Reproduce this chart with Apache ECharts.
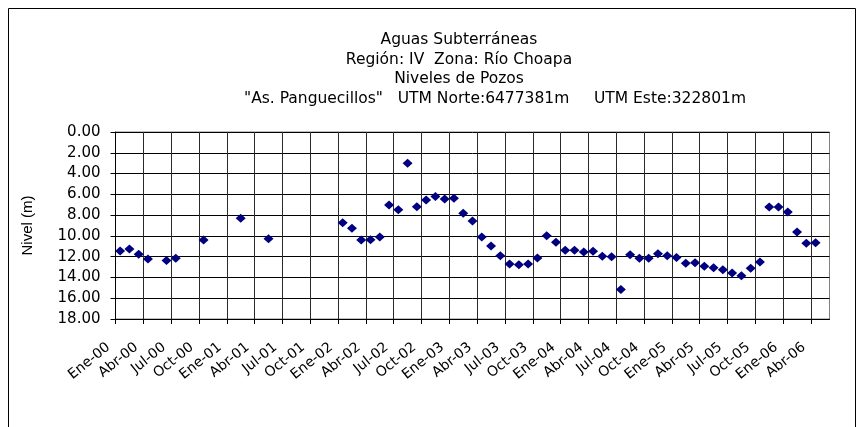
<!DOCTYPE html>
<html>
<head>
<meta charset="utf-8">
<script src="https://cdn.jsdelivr.net/npm/echarts@6/dist/echarts.min.js"></script>
<style>
  html, body { margin: 0; padding: 0; background: #fff; }
  #chart { width: 861px; height: 427px; }
</style>
</head>
<body>
<div id="chart"></div>
<script>
// Measurement months (YYYY-MM) and well level in metres below surface
const months = [
  '2000-01','2000-02','2000-03','2000-04','2000-06','2000-07','2000-10',
  '2001-02','2001-05',
  '2002-01','2002-02','2002-03','2002-04','2002-05','2002-06','2002-07','2002-08',
  '2002-09','2002-10','2002-11','2002-12',
  '2003-01','2003-02','2003-03','2003-04','2003-05','2003-06','2003-07','2003-08',
  '2003-09','2003-10','2003-11','2003-12',
  '2004-01','2004-02','2004-03','2004-04','2004-05','2004-06','2004-07','2004-08',
  '2004-09','2004-10','2004-11','2004-12',
  '2005-01','2005-02','2005-03','2005-04','2005-05','2005-06','2005-07','2005-08',
  '2005-09','2005-10','2005-11','2005-12',
  '2006-01','2006-02','2006-03','2006-04'
];
const levels = [
  11.45, 11.26, 11.77, 12.22, 12.38, 12.16, 10.39,
  8.31, 10.27,
  8.73, 9.27, 10.39, 10.36, 10.10, 7.03, 7.48, 3.02,
  7.19, 6.54, 6.22, 6.45,
  6.38, 7.83, 8.57, 10.10, 10.97, 11.90, 12.70, 12.77,
  12.70, 12.13, 9.98, 10.62,
  11.39, 11.39, 11.55, 11.48, 11.96, 12.00, 15.15, 11.81,
  12.16, 12.16, 11.71, 11.90,
  12.09, 12.64, 12.58, 12.93, 13.06, 13.25, 13.57, 13.83,
  13.12, 12.51, 7.22, 7.22,
  7.70, 9.62, 10.72, 10.65
];
// Quarterly tick labels, one every 3 months starting at Ene-00
const quarterLabels = [
  'Ene-00','Abr-00','Jul-00','Oct-00','Ene-01','Abr-01','Jul-01','Oct-01',
  'Ene-02','Abr-02','Jul-02','Oct-02','Ene-03','Abr-03','Jul-03','Oct-03',
  'Ene-04','Abr-04','Jul-04','Oct-04','Ene-05','Abr-05','Jul-05','Oct-05',
  'Ene-06','Abr-06'
];
const titleLines = [
  'Aguas Subterráneas',
  'Región: IV  Zona: Río Choapa',
  'Niveles de Pozos',
  '"As. Panguecillos"   UTM Norte:6477381m     UTM Este:322801m'
];

// Month axis: 0 = start of Jan 2000; each reading sits in the middle of its month
function monthIndex(ym) {
  const [y, m] = ym.split('-').map(Number);
  return (y - 2000) * 12 + (m - 1) + 0.5;
}
const points = months.map((ym, i) => [monthIndex(ym), levels[i]]);
const quarterTicks = quarterLabels.map((_, i) => i * 3);

const font = 'DejaVu Sans, Verdana, sans-serif';
const chart = echarts.init(document.getElementById('chart'), null, { renderer: 'canvas' });

chart.setOption({
  animation: false,
  backgroundColor: '#fff',
  title: titleLines.map((t, i) => ({
    text: t,
    left: i === 3 ? 490 : 454,
    top: 27 + i * 19.7,
    textAlign: 'center',
    textStyle: { fontFamily: font, fontSize: 15.5, fontWeight: 'normal', color: '#000' }
  })),
  graphic: [{
    type: 'rect',
    shape: { x: 8.5, y: 8.5, width: 847, height: 430 },
    style: { fill: null, stroke: '#000', lineWidth: 1 },
    silent: true, z: -1
  }],
  grid: { left: 115.5, right: 31.5, top: 132, bottom: 108, show: true, borderColor: '#808080', borderWidth: 1 },
  xAxis: {
    type: 'value',
    min: 0, max: 77, interval: 3,
    axisLine: { show: true, onZero: false, lineStyle: { color: '#000', width: 1 } },
    axisTick: { show: true, length: 5, customValues: quarterTicks, lineStyle: { color: '#000' } },
    splitLine: { show: true, lineStyle: { color: '#2a2a2a', width: 1 } },
    axisLabel: {
      customValues: quarterTicks,
      rotate: 39,
      margin: 21,
      padding: [0, 9, 0, 0],
      fontFamily: font, fontSize: 14, color: '#000',
      formatter: v => (v % 3 === 0 && quarterLabels[v / 3]) || ''
    }
  },
  yAxis: {
    type: 'value',
    inverse: true,
    min: 0, max: 18, interval: 2,
    name: 'Nivel (m)',
    nameLocation: 'middle',
    nameRotate: 90,
    nameGap: 80,
    nameTextStyle: { fontFamily: 'Liberation Sans, Arial, sans-serif', fontSize: 15, color: '#000' },
    axisLine: { show: true, lineStyle: { color: '#000', width: 1 } },
    axisTick: { show: true, length: 5, lineStyle: { color: '#000' } },
    splitLine: { show: true, lineStyle: { color: '#000', width: 1 } },
    axisLabel: {
      margin: 15,
      fontFamily: font, fontSize: 15, color: '#000',
      formatter: v => v.toFixed(2)
    }
  },
  series: [{
    type: 'scatter',
    data: points,
    symbol: 'diamond',
    symbolSize: [10, 9],
    itemStyle: { color: '#000080', opacity: 1 }
  }]
});
</script>
</body>
</html>
